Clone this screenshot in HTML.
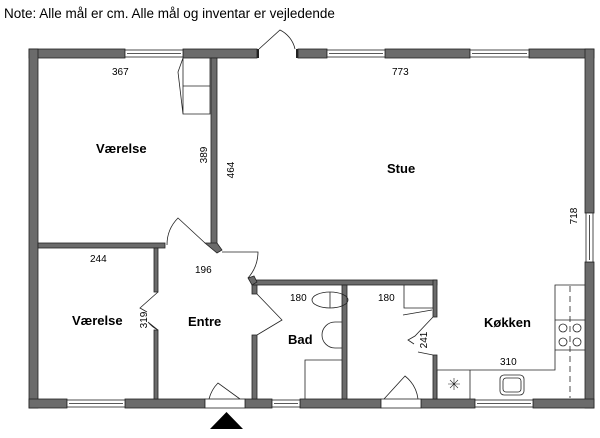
<!DOCTYPE html>
<html><head><meta charset="utf-8"><style>
body{margin:0;background:#fff;width:600px;height:433px;overflow:hidden}
text{font-family:"Liberation Sans",sans-serif;fill:#000}
</style></head><body>
<svg width="600" height="433" viewBox="0 0 600 433" xmlns="http://www.w3.org/2000/svg">
<text x="4" y="18" font-size="13.5">Note: Alle mål er cm. Alle mål og inventar er vejledende</text>
<g fill="#6b6b6b" stroke="#222" stroke-width="0.8">
<rect x="29" y="49" width="96" height="9"/>
<rect x="183" y="49" width="74" height="9"/>
<rect x="298" y="49" width="29" height="9"/>
<rect x="385" y="49" width="85" height="9"/>
<rect x="529" y="49" width="65" height="9"/>
<rect x="29" y="49" width="9" height="359"/>
<rect x="585" y="49" width="9" height="164"/>
<rect x="585" y="262" width="9" height="146"/>
<rect x="29" y="399" width="38" height="9"/>
<rect x="125" y="399" width="80" height="9"/>
<rect x="245" y="399" width="27" height="9"/>
<rect x="300" y="399" width="81" height="9"/>
<rect x="421" y="399" width="54" height="9"/>
<rect x="533" y="399" width="61" height="9"/>
<rect x="211" y="58" width="6" height="186"/>
<rect x="38" y="243" width="127" height="5"/>
<rect x="154" y="248" width="4" height="44"/>
<rect x="154" y="330" width="4" height="69"/>
<rect x="252" y="282" width="5" height="12"/>
<rect x="252" y="335" width="5" height="64"/>
<rect x="252" y="280" width="185" height="5"/>
<rect x="342" y="285" width="5" height="114"/>
<rect x="433" y="280" width="4" height="37"/>
<rect x="433" y="355" width="4" height="44"/>
<polygon points="205,243 217,243 222,250 217,253"/>
<polygon points="248,278 254,276 257,282 252,285"/>
</g>
<g fill="#fff" stroke="#222" stroke-width="0.8">
<rect x="125" y="50" width="58" height="7"/><line x1="127" y1="53.5" x2="181" y2="53.5"/>
<rect x="327" y="50" width="58" height="7"/><line x1="329" y1="53.5" x2="383" y2="53.5"/>
<rect x="470" y="50" width="59" height="7"/><line x1="472" y1="53.5" x2="527" y2="53.5"/>
<rect x="67" y="400" width="58" height="7"/><line x1="69" y1="403.5" x2="123" y2="403.5"/>
<rect x="272" y="400" width="28" height="7"/><line x1="274" y1="403.5" x2="298" y2="403.5"/>
<rect x="475" y="400" width="58" height="7"/><line x1="477" y1="403.5" x2="531" y2="403.5"/>
<rect x="586" y="213" width="7" height="49"/><line x1="589.5" y1="215" x2="589.5" y2="260"/>
<rect x="257" y="49" width="41" height="9" stroke="none"/>
<line x1="258" y1="49" x2="258" y2="58" stroke-width="2"/><line x1="297" y1="49" x2="297" y2="58" stroke-width="2"/>
<rect x="205" y="399" width="40" height="9"/>
<rect x="381" y="399" width="40" height="9"/>
</g>
<g fill="none" stroke="#222" stroke-width="0.8">
<path d="M259,49 L280,30 A28,28 0 0 1 295,49"/>
<path d="M209,399 A35,35 0 0 1 218,383 L240,399"/>
<path d="M384,399 L405,376 A35,35 0 0 1 418,399"/>
<path d="M167,245 A38,38 0 0 1 178,218 L205,243"/>
<path d="M158,292 L140,308 L147,312 M148,322 L158,330 A30,30 0 0 1 148,322"/>
<path d="M222,252 L258,252 A40,40 0 0 1 248,278"/>
<path d="M257,294 L282,320 L257,335"/>
<path d="M433,317 L415,336 L408,340 L414,344 M418,352 L433,355"/>
<path d="M183,58 L183,114 L210,114 L210,58 M183,86 L210,86 M183,58 L178,72 L183,114"/>
<ellipse cx="330" cy="300" rx="18" ry="8"/><line x1="330" y1="292" x2="330" y2="308"/>
<path d="M342,322 L335,322 A13,13 0 0 0 335,348 L342,348"/>
<path d="M305,399 L305,360 L342,360"/>
<path d="M404,285 L404,308 L433,308"/><line x1="403" y1="315" x2="432" y2="310"/>
<path d="M437,370 L555,370 L555,285 L585,285"/>
<line x1="555" y1="320" x2="585" y2="320"/><line x1="555" y1="350" x2="585" y2="350"/>
<line x1="470" y1="370" x2="470" y2="399"/><line x1="437" y1="370" x2="437" y2="399"/>
<line x1="570" y1="286" x2="570" y2="398" stroke-dasharray="6,4"/>
<circle cx="563" cy="328" r="4"/><circle cx="577" cy="328" r="4"/>
<circle cx="563" cy="342" r="4"/><circle cx="577" cy="342" r="4"/>
<rect x="500" y="375" width="24" height="20" rx="4"/><rect x="503" y="378" width="18" height="14" rx="3"/>
<path d="M448,384 L460,384 M454,378 L454,390 M450,380 L458,388 M458,380 L450,388" stroke-width="0.6"/>
</g>
<polygon points="210,429 243,429 226.5,412" fill="#000"/>
<g font-size="10">
<text x="112" y="75">367</text>
<text x="392" y="75">773</text>
<text x="90" y="262">244</text>
<text x="195" y="273">196</text>
<text x="290" y="301">180</text>
<text x="378" y="301">180</text>
<text x="500" y="365">310</text>
<text transform="translate(207,155) rotate(-90)" text-anchor="middle">389</text>
<text transform="translate(234,170) rotate(-90)" text-anchor="middle">464</text>
<text transform="translate(577,216) rotate(-90)" text-anchor="middle">718</text>
<text transform="translate(147,320) rotate(-90)" text-anchor="middle">319</text>
<text transform="translate(427,340) rotate(-90)" text-anchor="middle">241</text>
</g>
<g font-size="13" font-weight="bold">
<text x="96" y="153">Værelse</text>
<text x="387" y="173">Stue</text>
<text x="72" y="325">Værelse</text>
<text x="188" y="326">Entre</text>
<text x="288" y="344">Bad</text>
<text x="484" y="327">Køkken</text>
</g>
</svg>
</body></html>
